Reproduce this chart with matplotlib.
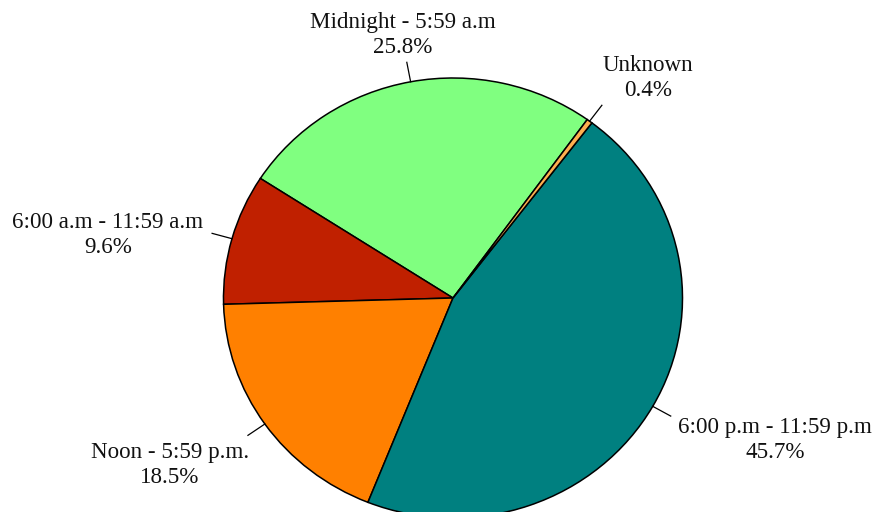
import numpy as np
import matplotlib.pyplot as plt

labels = ["Midnight - 5:59 a.m", "6:00 a.m - 11:59 a.m", "Noon - 5:59 p.m.",
          "6:00 p.m - 11:59 p.m", "Unknown"]
shares = [25.8, 9.6, 18.5, 45.7, 0.4]
colors = ["#80FF80", "#C02000", "#FF8000", "#008080", "#FFB050"]

# label centres in axes data units (pie radius = 1)
label_pos = [(-0.22, 1.195), (-1.503, 0.286), (-1.233, -0.759),
             (1.403, -0.645), (0.85, 1.0)]

W, H = 877, 512
fig = plt.figure(figsize=(W / 100, H / 100), dpi=100)
cx, cy, rx, ry = 453, 298, 229.5, 220
ax = fig.add_axes([(cx - rx) / W, (H - cy - ry) / H, 2 * rx / W, 2 * ry / H])

wedges, _ = ax.pie(shares, colors=colors, startangle=54.2, counterclock=True,
                   wedgeprops=dict(edgecolor="black", linewidth=1.1))
ax.set_aspect("auto")
ax.set_xlim(-1, 1)
ax.set_ylim(-1, 1)
ax.axis("off")

for w, lab, val, (tx, ty) in zip(wedges, labels, shares, label_pos):
    mid = np.deg2rad((w.theta1 + w.theta2) / 2)
    ax.plot([np.cos(mid), 1.09 * np.cos(mid)], [np.sin(mid), 1.09 * np.sin(mid)],
            color="black", linewidth=0.9, clip_on=False)
    ax.text(tx, ty, f"{lab}\n{val:.1f}%", ha="center", va="center",
            family="Liberation Serif", fontsize=16.6, linespacing=1.27,
            color="#111111", clip_on=False)

fig.savefig("out.png", dpi=100)
